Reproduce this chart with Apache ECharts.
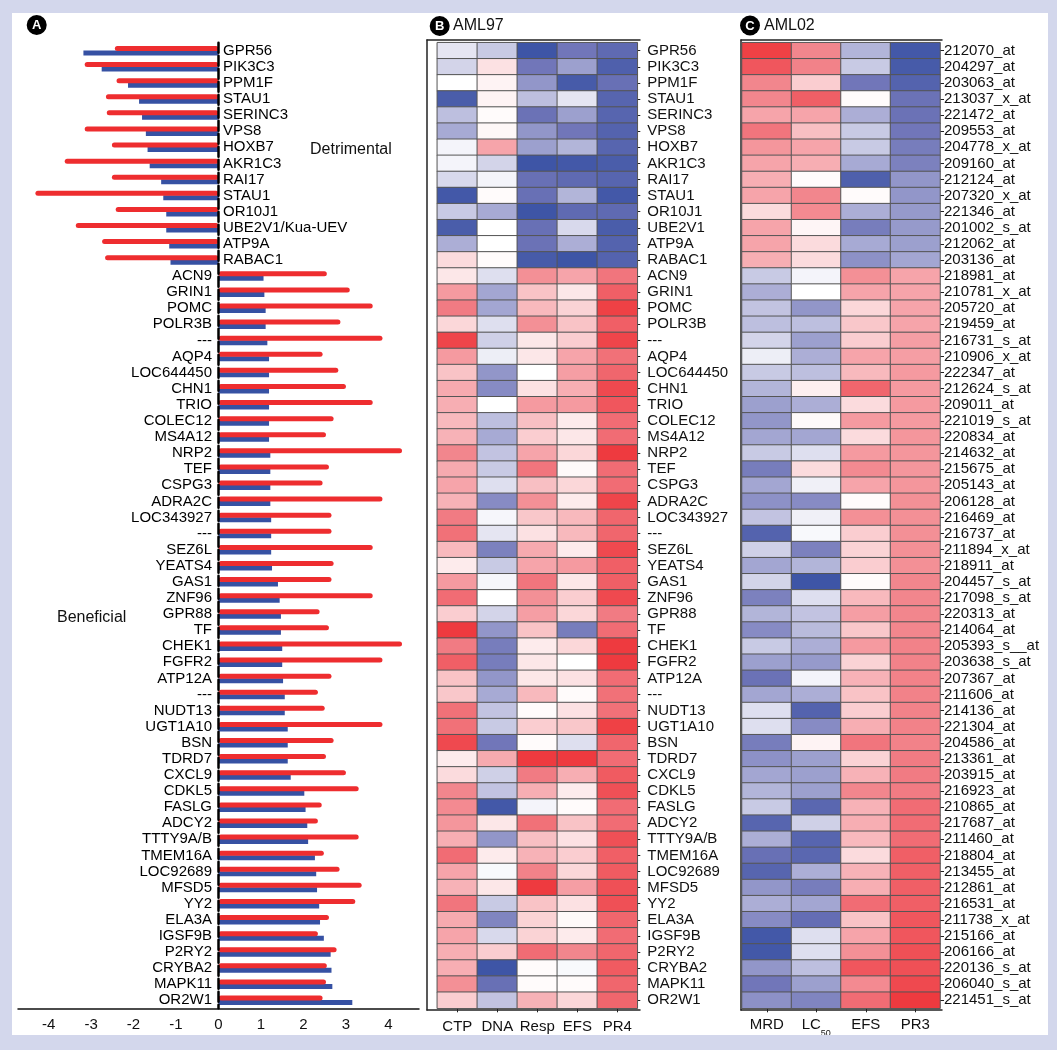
<!DOCTYPE html>
<html lang="en">
<head>
<meta charset="UTF-8">
<title>AML97 / AML02</title>
<script src="https://cdn.jsdelivr.net/npm/echarts@6/dist/echarts.min.js"></script>
<style>
    body { margin: 0; background: #d3d7ec; }
    #main { position: absolute; left: 12px; top: 13px; width: 1036px; height: 1022px; background: #fff; }
</style>
</head>
<body>
<div id="main"></div>
<script>
    // panel A: gene list and the two bar values per gene
    var genesA = ['GPR56','PIK3C3','PPM1F','STAU1','SERINC3','VPS8','HOXB7','AKR1C3','RAI17','STAU1','OR10J1','UBE2V1/Kua-UEV','ATP9A','RABAC1',
        'ACN9','GRIN1','POMC','POLR3B','---','AQP4','LOC644450','CHN1','TRIO','COLEC12','MS4A12','NRP2','TEF','CSPG3','ADRA2C','LOC343927','---',
        'SEZ6L','YEATS4','GAS1','ZNF96','GPR88','TF','CHEK1','FGFR2','ATP12A','---','NUDT13','UGT1A10','BSN','TDRD7','CXCL9','CDKL5','FASLG',
        'ADCY2','TTTY9A/B','TMEM16A','LOC92689','MFSD5','YY2','ELA3A','IGSF9B','P2RY2','CRYBA2','MAPK11','OR2W1'];
    var redVals = [-2.44,-3.15,-2.40,-2.65,-2.63,-3.15,-2.51,-3.62,-2.51,-4.31,-2.42,-3.36,-2.74,-2.67,
        2.55,3.09,3.63,2.87,3.86,2.45,2.82,3.00,3.63,2.71,2.53,4.32,2.60,2.45,3.86,2.66,2.66,3.63,2.71,2.66,3.63,2.38,2.60,4.32,3.86,2.66,
        2.34,2.50,3.86,2.71,2.53,3.00,3.30,2.43,2.34,3.30,2.48,2.85,3.37,3.22,2.60,2.34,2.78,2.55,2.53,2.45];
    var blueVals = [-3.18,-2.75,-2.13,-1.87,-1.80,-1.71,-1.67,-1.62,-1.35,-1.30,-1.23,-1.23,-1.16,-1.13,
        1.06,1.08,1.11,1.11,1.15,1.19,1.19,1.19,1.19,1.19,1.19,1.22,1.22,1.22,1.22,1.24,1.24,1.24,1.26,1.40,1.44,1.47,1.47,1.50,1.50,1.52,
        1.56,1.56,1.63,1.63,1.63,1.70,2.02,2.05,2.09,2.11,2.27,2.30,2.32,2.37,2.39,2.48,2.64,2.66,2.68,3.15];
    var xTicksA = [-4,-3,-2,-1,0,1,2,3,4];

    // panel B: AML97
    var colsB = ['CTP','DNA','Resp','EFS','PR4'];
    var genesB = genesA.slice();
    genesB[11] = 'UBE2V1';
    var bCtp = [-0.12,-0.2,0,-0.88,-0.3,-0.4,-0.05,-0.05,-0.18,-0.92,-0.25,-0.88,-0.38,0.18,
        0.12,0.5,0.65,0.2,0.9,0.5,0.3,0.42,0.4,0.35,0.38,0.6,0.42,0.45,0.38,0.65,0.7,0.35,0.1,0.5,0.72,0.25,0.95,0.65,0.78,0.3,
        0.28,0.7,0.7,0.88,0.1,0.18,0.6,0.58,0.52,0.4,0.72,0.45,0.38,0.68,0.42,0.45,0.4,0.4,0.55,0.25];
    var bDna = [-0.25,0.15,0.06,0.06,0.02,0.04,0.45,-0.2,-0.05,0.02,-0.4,0,0,0.02,
        -0.15,-0.42,-0.42,-0.15,-0.22,-0.08,-0.5,-0.55,0,-0.3,-0.4,-0.28,-0.25,-0.15,-0.55,-0.04,-0.12,-0.6,-0.25,-0.04,0,-0.2,-0.5,-0.62,-0.62,-0.5,
        -0.4,-0.28,-0.25,-0.65,0.42,-0.22,-0.28,-0.92,0.12,-0.5,0.1,-0.03,0.12,-0.25,-0.58,-0.18,0.25,-0.95,-0.7,-0.28];
    var bResp = [-0.95,-0.65,-0.5,-0.3,-0.68,-0.5,-0.45,-0.95,-0.7,-0.7,-0.95,-0.7,-0.68,-0.9,
        0.55,0.3,0.35,0.55,0.12,0.12,0,0.15,0.5,0.32,0.25,0.45,0.68,0.32,0.55,0.28,0.15,0.42,0.45,0.68,0.55,0.48,0.3,0.1,0.12,0.12,
        0.35,0.02,0.25,0.02,0.95,0.65,0.4,-0.05,0.7,0.32,0.38,0.62,0.95,0.3,0.22,0.22,0.72,0.02,0.02,0.38];
    var bEfs = [-0.65,-0.45,-0.9,-0.12,-0.45,-0.65,-0.35,-0.92,-0.75,-0.35,-0.75,-0.18,-0.38,-0.95,
        0.45,0.12,0.22,0.3,0.25,0.45,0.48,0.4,0.5,0.1,0.12,0.2,0.03,0.2,0.1,0.35,0.35,0.1,0.5,0.12,0.25,0.2,-0.62,0.2,0,0.15,
        0.02,0.15,0.28,-0.15,0.95,0.4,0.1,0.02,0.3,0.15,0.25,0.2,0.48,0.15,0.03,0.1,0.6,-0.03,0.02,0.2];
    var bPr4 = [-0.75,-0.85,-0.7,-0.8,-0.8,-0.82,-0.8,-0.88,-0.8,-0.92,-0.75,-0.88,-0.82,-0.82,
        0.68,0.78,0.92,0.78,0.9,0.7,0.75,0.88,0.82,0.72,0.72,0.95,0.72,0.72,0.9,0.75,0.75,0.88,0.78,0.78,0.88,0.65,0.72,0.95,0.95,0.72,
        0.7,0.7,0.92,0.75,0.72,0.8,0.85,0.72,0.72,0.85,0.78,0.8,0.85,0.85,0.75,0.72,0.75,0.8,0.75,0.75];

    // panel C: AML02
    var colsC = ['MRD','LC50','EFS','PR3'];
    var probesC = ['212070_at','204297_at','203063_at','213037_x_at','221472_at','209553_at','204778_x_at','209160_at','212124_at','207320_x_at',
        '221346_at','201002_s_at','212062_at','203136_at','218981_at','210781_x_at','205720_at','219459_at','216731_s_at','210906_x_at',
        '222347_at','212624_s_at','209011_at','221019_s_at','220834_at','214632_at','215675_at','205143_at','206128_at','216469_at',
        '216737_at','211894_x_at','218911_at','204457_s_at','217098_s_at','220313_at','214064_at','205393_s__at','203638_s_at','207367_at',
        '211606_at','214136_at','221304_at','204586_at','213361_at','203915_at','216923_at','210865_at','217687_at','211460_at',
        '218804_at','213455_at','212861_at','216531_at','211738_x_at','215166_at','206166_at','220136_s_at','206040_s_at','221451_s_at'];
    var cMrd = [0.92,0.82,0.6,0.6,0.45,0.68,0.52,0.45,0.4,0.45,0.18,0.45,0.45,0.4,
        -0.25,-0.38,-0.28,-0.3,-0.2,-0.08,-0.25,-0.35,-0.45,-0.5,-0.42,-0.25,-0.62,-0.42,-0.52,-0.28,-0.82,-0.22,-0.42,-0.2,-0.6,-0.35,-0.55,-0.25,-0.45,-0.68,
        -0.42,-0.15,-0.15,-0.62,-0.52,-0.42,-0.35,-0.25,-0.8,-0.38,-0.7,-0.8,-0.5,-0.38,-0.55,-0.92,-0.92,-0.5,-0.65,-0.52];
    var cLc50 = [0.6,0.62,0.25,0.78,0.45,0.32,0.45,0.4,0.02,0.6,0.58,0.05,0.18,0.18,
        -0.05,0,-0.5,-0.3,-0.45,-0.38,-0.3,0.08,-0.38,0.03,-0.42,-0.15,0.18,-0.07,-0.55,-0.07,-0.03,-0.6,-0.35,-0.95,-0.15,-0.28,-0.32,-0.38,-0.48,-0.05,
        -0.38,-0.82,-0.55,0.06,-0.45,-0.45,-0.45,-0.78,-0.22,-0.8,-0.78,-0.38,-0.62,-0.42,-0.72,-0.15,-0.15,-0.3,-0.45,-0.58];
    var cEfs = [-0.35,-0.25,-0.65,0.02,-0.38,-0.25,-0.25,-0.4,-0.85,0.02,-0.38,-0.62,-0.4,-0.52,
        0.55,0.45,0.2,0.28,0.25,0.45,0.35,0.75,0.18,0.5,0.18,0.5,0.58,0.45,0.02,0.55,0.25,0.22,0.25,0.02,0.35,0.48,0.28,0.5,0.22,0.38,
        0.3,0.25,0.4,0.68,0.22,0.38,0.6,0.38,0.4,0.35,0.18,0.38,0.4,0.72,0.3,0.45,0.55,0.82,0.58,0.72];
    var cPr3 = [-0.92,-0.9,-0.82,-0.68,-0.68,-0.65,-0.62,-0.6,-0.5,-0.5,-0.48,-0.48,-0.45,-0.42,
        0.45,0.45,0.45,0.45,0.48,0.48,0.5,0.5,0.5,0.5,0.52,0.52,0.52,0.52,0.55,0.55,0.55,0.55,0.55,0.6,0.6,0.6,0.6,0.62,0.62,0.62,
        0.62,0.62,0.62,0.62,0.65,0.65,0.65,0.72,0.72,0.72,0.78,0.78,0.78,0.78,0.82,0.82,0.85,0.85,0.88,0.95];

    var nDetr = 14;
    var FONT = 'Liberation Sans, Arial, Helvetica, sans-serif';

    function toCells(cols) {
        var out = [];
        cols.forEach(function (col, ci) {
            col.forEach(function (v, ri) { out.push([ci, ri, v]); });
        });
        return out;
    }

    // gene names sit on the zero line: detrimental ones to the right, beneficial ones to the left
    var nameMarks = genesA.map(function (g, i) {
        return { value: [0, i], label: { position: i < nDetr ? 'right' : 'left', distance: i < nDetr ? 4 : 6 } };
    });

    var rowTop = 29.7, rowH = 965.6;
    function frameAxis(gi, pos) {
        return {
            type: 'value', gridIndex: gi, position: pos, min: 0, max: 1,
            axisLine: { show: true, onZero: false, lineStyle: { color: '#222', width: 1.5 } },
            axisTick: { show: false }, axisLabel: { show: false }, splitLine: { show: false }
        };
    }

    var myChart = echarts.init(document.getElementById('main'));
    var option = {
        animation: false,
        textStyle: { fontFamily: FONT },
        grid: [
            { left: 6, top: rowTop, width: 401, height: rowH, outerBoundsMode: 'none' },
            { left: 415, top: 27, width: 213, height: 970, outerBoundsMode: 'none' },
            { left: 425.3, top: rowTop, width: 200, height: rowH, outerBoundsMode: 'none' },
            { left: 729, top: 27, width: 201, height: 970, outerBoundsMode: 'none' },
            { left: 730, top: rowTop, width: 198, height: rowH, outerBoundsMode: 'none' }
        ],
        xAxis: [
            {
                type: 'value', gridIndex: 0, min: -4.72, max: 4.72,
                axisLine: { show: true, onZero: false, lineStyle: { color: '#111', width: 1.5 } },
                axisTick: { show: false }, splitLine: { show: false },
                axisLabel: { customValues: xTicksA, margin: 9, fontSize: 15, color: '#111' }
            },
            frameAxis(1, 'bottom'),
            frameAxis(1, 'top'),
            {
                type: 'category', gridIndex: 2, data: colsB, position: 'bottom',
                axisLine: { show: false },
                axisTick: { show: true, alignWithLabel: true, length: 4, lineStyle: { color: '#222' } },
                axisLabel: { margin: 11, fontSize: 15, color: '#111', interval: 0 }
            },
            frameAxis(3, 'bottom'),
            frameAxis(3, 'top'),
            {
                type: 'category', gridIndex: 4, data: colsC, position: 'bottom',
                axisLine: { show: false },
                axisTick: { show: true, alignWithLabel: true, length: 4, lineStyle: { color: '#222' } },
                axisLabel: {
                    margin: 9, fontSize: 15, color: '#111', interval: 0,
                    formatter: function (v) { return v === 'LC50' ? '{b|LC}{sub|50}' : '{b|' + v + '}'; },
                    rich: {
                        b: { fontSize: 15, lineHeight: 16, verticalAlign: 'top', color: '#111' },
                        sub: { fontSize: 9, lineHeight: 21, verticalAlign: 'bottom', color: '#111' }
                    }
                }
            }
        ],
        yAxis: [
            {
                type: 'category', gridIndex: 0, data: genesA, inverse: true, z: 10,
                axisLine: { show: true, onZero: true, lineStyle: { color: '#000', width: 2.5, type: [10, 3] } },
                axisTick: { show: false },
                axisLabel: { show: false }
            },
            frameAxis(1, 'left'),
            {
                type: 'category', gridIndex: 2, data: genesB, inverse: true, position: 'right',
                axisLine: { show: false },
                axisTick: { show: true, alignWithLabel: true, length: 3, lineStyle: { color: '#222' } },
                axisLabel: { margin: 10, fontSize: 15, color: '#111', interval: 0 }
            },
            frameAxis(3, 'left'),
            {
                type: 'category', gridIndex: 4, data: probesC, inverse: true, position: 'right',
                axisLine: { show: false },
                axisTick: { show: true, alignWithLabel: true, length: 4, lineStyle: { color: '#222' } },
                axisLabel: { margin: 4, fontSize: 15, color: '#111', interval: 0 }
            }
        ],
        visualMap: {
            type: 'continuous', show: false, min: -1, max: 1, dimension: 2, seriesIndex: [2, 3],
            inRange: { color: ['#3650a3', '#6d73b7', '#b6b8db', '#ffffff', '#f8bcc0', '#f17880', '#ee2f33'] }
        },
        series: [
            {
                name: 'red', type: 'bar', xAxisIndex: 0, yAxisIndex: 0, data: redVals, z: 3,
                barWidth: 5, barGap: '-10%',
                itemStyle: { color: '#ee2d2f', borderRadius: 2.5 }
            },
            {
                name: 'blue', type: 'bar', xAxisIndex: 0, yAxisIndex: 0, data: blueVals, z: 2,
                barWidth: 5,
                itemStyle: { color: '#3651a3' }
            },
            {
                type: 'heatmap', xAxisIndex: 3, yAxisIndex: 2,
                data: toCells([bCtp, bDna, bResp, bEfs, bPr4]),
                itemStyle: { borderColor: '#555', borderWidth: 1 }
            },
            {
                type: 'heatmap', xAxisIndex: 6, yAxisIndex: 4,
                data: toCells([cMrd, cLc50, cEfs, cPr3]),
                itemStyle: { borderColor: '#555', borderWidth: 1 }
            },
            {
                type: 'scatter', xAxisIndex: 0, yAxisIndex: 0, data: nameMarks, z: 4,
                symbolSize: 1, itemStyle: { opacity: 0 }, silent: true,
                label: {
                    show: true, fontSize: 15, color: '#000', opacity: 1, fontFamily: FONT,
                    formatter: function (p) { return genesA[p.dataIndex]; }
                }
            }
        ],
        graphic: [
            { type: 'circle', shape: { cx: 24.7, cy: 12, r: 10 }, style: { fill: '#000' } },
            { type: 'text', x: 24.7, y: 12.5, style: { text: 'A', fill: '#fff', font: 'bold 13px ' + FONT, align: 'center', verticalAlign: 'middle' } },
            { type: 'circle', shape: { cx: 427.7, cy: 13, r: 10 }, style: { fill: '#000' } },
            { type: 'text', x: 427.7, y: 13.5, style: { text: 'B', fill: '#fff', font: 'bold 13px ' + FONT, align: 'center', verticalAlign: 'middle' } },
            { type: 'text', x: 441, y: 13, style: { text: 'AML97', fill: '#111', font: '16px ' + FONT, verticalAlign: 'middle' } },
            { type: 'circle', shape: { cx: 738, cy: 12.5, r: 10 }, style: { fill: '#000' } },
            { type: 'text', x: 738, y: 13, style: { text: 'C', fill: '#fff', font: 'bold 13px ' + FONT, align: 'center', verticalAlign: 'middle' } },
            { type: 'text', x: 752, y: 12.5, style: { text: 'AML02', fill: '#111', font: '16px ' + FONT, verticalAlign: 'middle' } },
            { type: 'text', x: 298, y: 137, style: { text: 'Detrimental', fill: '#111', font: '16px ' + FONT, verticalAlign: 'middle' } },
            { type: 'text', x: 45, y: 605, style: { text: 'Beneficial', fill: '#111', font: '16px ' + FONT, verticalAlign: 'middle' } }
        ]
    };
    myChart.setOption(option);
</script>
</body>
</html>
